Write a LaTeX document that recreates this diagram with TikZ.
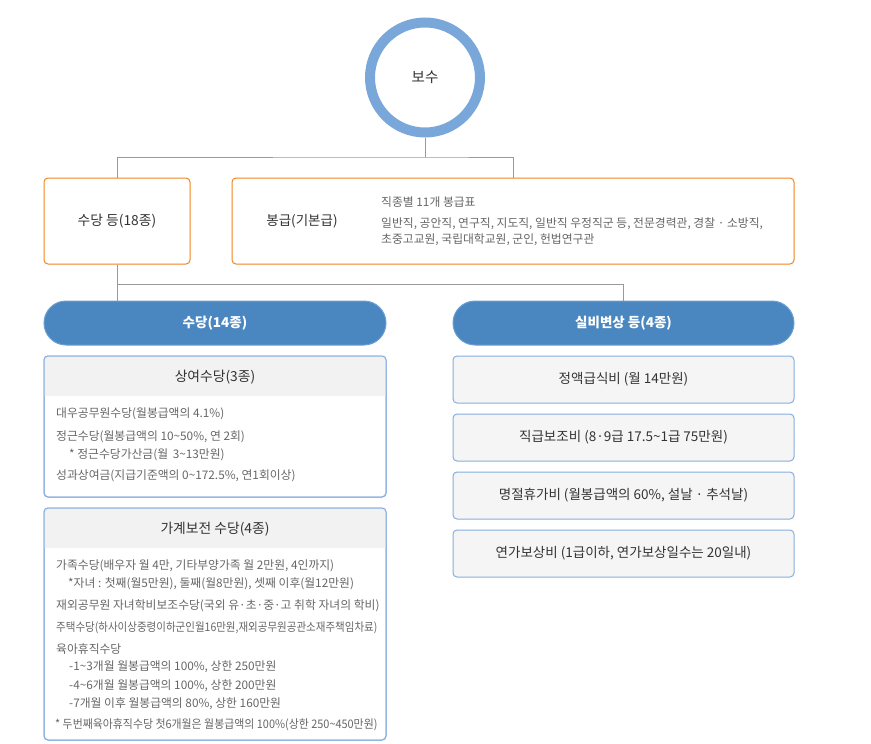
\documentclass[tikz,border=0pt]{standalone}
\usepackage{fontspec}
\setmainfont{Noto Sans CJK KR}
\usetikzlibrary{backgrounds}
\definecolor{ringc}{HTML}{7AA7D9}
\definecolor{orangec}{HTML}{F0851E}
\definecolor{pillc}{HTML}{4A87C1}
\definecolor{pilledge}{HTML}{6A9FD3}
\definecolor{bluec}{HTML}{86AEDF}
\definecolor{hdrc}{HTML}{F2F2F2}
\definecolor{lightc}{HTML}{F5F5F5}
\definecolor{linec}{HTML}{999999}
\definecolor{darkc}{HTML}{333333}
\definecolor{bodyc}{HTML}{666666}
\tikzset{
  conn/.style={draw=linec, line width=1pt},
  obox/.style={draw=orangec, line width=1pt, rounded corners=4pt, fill=white, inner sep=0pt, text=darkc, font=\fontsize{13.8}{16}\selectfont},
  pillbox/.style={draw=pilledge, line width=1pt, fill=pillc, rounded corners=22pt, inner sep=0pt, text=white, font=\bfseries\fontsize{13.5}{16}\selectfont},
  bbox/.style={draw=bluec, line width=1pt, rounded corners=4pt, inner sep=0pt},
  gbox/.style={draw=bluec, line width=1pt, rounded corners=4pt, fill=lightc, inner sep=0pt, text=darkc, font=\fontsize{13.5}{16}\selectfont},
  ttl/.style={inner sep=0pt, text=darkc, font=\fontsize{13.8}{16}\selectfont},
  txt/.style={inner sep=0pt, anchor=west, text=bodyc, font=\fontsize{11.8}{14}\selectfont},
}
\begin{document}
\begin{tikzpicture}[x=1pt,y=-1pt]
\useasboundingbox (0,0) rectangle (871,744);
% top circle
\node[circle, draw=ringc, line width=10pt, minimum size=110pt, inner sep=0pt, text=darkc, font=\fontsize{14.5}{16}\selectfont] (bosu) at (425,77.5) {보수};
% second row
\node[obox, minimum width=146pt, minimum height=86pt] (sd) at (117,221) {수당 등(18종)};
\node[obox, minimum width=562pt, minimum height=86pt] (bong) at (513,221) {};
\node[inner sep=0pt, text=darkc, font=\fontsize{13.5}{16}\selectfont] (bongt) at (302,221) {봉급(기본급)};
\node[txt] (b1) at (381,202) {직종별 11개 봉급표};
\node[txt] (b2) at (381,224) {일반직, 공안직, 연구직, 지도직, 일반직 우정직군 등, 전문경력관, 경찰 · 소방직,};
\node[txt] (b3) at (381,240) {초중고교원, 국립대학교원, 군인, 헌법연구관};
% pills
\node[pillbox, minimum width=342pt, minimum height=44pt] (pl) at (215,323) {수당(14종)};
\node[pillbox, minimum width=341pt, minimum height=44pt] (pr) at (623.5,323) {실비변상 등(4종)};
% left box 1
\node[bbox, minimum width=342pt, minimum height=141pt] (sy) at (215,426.5) {};
\begin{scope}
\clip[rounded corners=4pt] (44,356) rectangle (386,497);
\fill[hdrc] (44,356) rectangle (386,396);
\end{scope}
\draw[draw=bluec, line width=1pt, rounded corners=4pt] (44,356) rectangle (386,497);
\node[ttl] (syt) at (215,377) {상여수당(3종)};
\node[txt] (s1) at (56,414) {대우공무원수당(월봉급액의 4.1\%)};
\node[txt] (s2) at (56,437) {정근수당(월봉급액의 10\textasciitilde50\%, 연 2회)};
\node[txt] (s3) at (69,455) {* 정근수당가산금(월 \,3\textasciitilde13만원)};
\node[txt] (s4) at (56,476) {성과상여금(지급기준액의 0\textasciitilde172.5\%, 연1회이상)};
% left box 2
\node[bbox, minimum width=342pt, minimum height=232pt] (gg) at (215,624) {};
\begin{scope}
\clip[rounded corners=4pt] (44,508) rectangle (386,740);
\fill[hdrc] (44,508) rectangle (386,548);
\end{scope}
\draw[draw=bluec, line width=1pt, rounded corners=4pt] (44,508) rectangle (386,740);
\node[ttl] (ggt) at (215,529) {가계보전 수당(4종)};
\node[txt] (g1) at (56,566) {가족수당(배우자 월 4만, 기타부양가족 월 2만원, 4인까지)};
\node[txt] (g2) at (68,584) {*자녀 : 첫째(월5만원), 둘째(월8만원), 셋째 이후(월12만원)};
\node[txt] (g3) at (56,606) {재외공무원 자녀학비보조수당(국외 유·초·중·고 취학 자녀의 학비)};
\node[txt] (g4) at (56,628) {\scalebox{0.89}[1]{주택수당(하사이상중령이하군인월16만원,재외공무원공관소재주책임차료)}};
\node[txt] (g5) at (56,649) {육아휴직수당};
\node[txt] (g6) at (69,667) {-1\textasciitilde3개월 월봉급액의 100\%, 상한 250만원};
\node[txt] (g7) at (69,686) {-4\textasciitilde6개월 월봉급액의 100\%, 상한 200만원};
\node[txt] (g8) at (69,704) {-7개월 이후 월봉급액의 80\%, 상한 160만원};
\node[txt] (g9) at (55,725) {\scalebox{0.925}[1]{* 두번째육아휴직수당 첫6개월은 월봉급액의 100\%(상한 250\textasciitilde450만원)}};
% right boxes
\node[gbox, minimum width=341pt, minimum height=47pt] (r1) at (623.5,379.5) {정액급식비 (월 14만원)};
\node[gbox, minimum width=341pt, minimum height=47pt] (r2) at (623.5,437.5) {직급보조비 (8·9급 17.5\textasciitilde1급 75만원)};
\node[gbox, minimum width=341pt, minimum height=47pt] (r3) at (623.5,495.5) {명절휴가비 (월봉급액의 60\%, 설날 · 추석날)};
\node[gbox, minimum width=341pt, minimum height=47pt] (r4) at (623.5,553.5) {연가보상비 (1급이하, 연가보상일수는 20일내)};
% connectors
\begin{pgfonlayer}{background}
\coordinate (j1) at (425,157);
\coordinate (j2) at (117,284);
\draw[conn] (bosu.south) -- (j1);
\draw[conn] (sd.north) |- (j1) -| (bong.north);
\draw[conn] (sd.south) -- (sd.south |- pl.north);
\draw[conn] (j2) -| (pr.north);
\end{pgfonlayer}
\end{tikzpicture}
\end{document}
